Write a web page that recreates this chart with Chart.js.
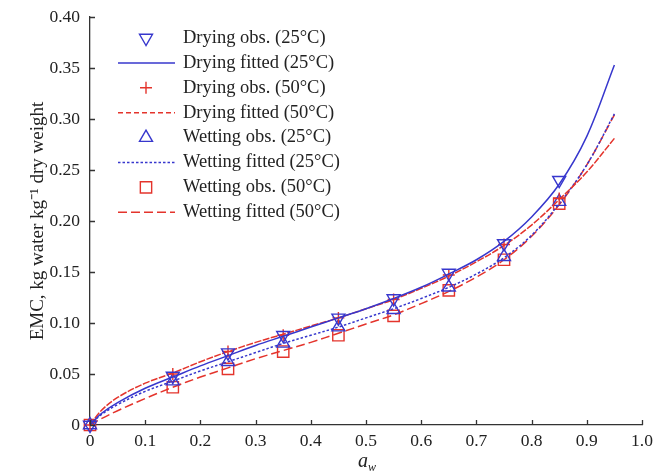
<!DOCTYPE html>
<html>
<head>
<meta charset="utf-8">
<script src="https://cdn.jsdelivr.net/npm/chart.js@4.4.1/dist/chart.umd.min.js"></script>
<style>
  html, body { margin: 0; padding: 0; background: #fff; }
  #wrap { width: 667px; height: 475px; }
</style>
</head>
<body>
<div id="wrap"><canvas id="emc"></canvas></div>
<script>
// observed points
const awObs = [0, 0.15, 0.25, 0.35, 0.45, 0.55, 0.65, 0.75, 0.85];
const dry25Obs = [0, 0.048, 0.071, 0.088, 0.105, 0.124, 0.149, 0.178, 0.240];
const dry50Obs = [0, 0.050, 0.072, 0.088, 0.105, 0.123, 0.147, 0.177, 0.222];
const wet25Obs = [0, 0.043, 0.062, 0.080, 0.096, 0.113, 0.135, 0.165, 0.219];
const wet50Obs = [0, 0.037, 0.055, 0.072, 0.088, 0.107, 0.132, 0.162, 0.217];

// fitted curves
const awFit = [0, 0.02, 0.05, 0.1, 0.15, 0.2, 0.25, 0.3, 0.35, 0.4, 0.45, 0.5, 0.55, 0.6, 0.65, 0.7, 0.75, 0.8, 0.85, 0.9, 0.95];
const dry25Fit = [0, 0.011, 0.022, 0.036, 0.047, 0.058, 0.068, 0.078, 0.087, 0.096, 0.105, 0.114, 0.124, 0.135, 0.148, 0.162, 0.180, 0.204, 0.236, 0.283, 0.353];
const dry50Fit = [0, 0.014, 0.027, 0.041, 0.051, 0.062, 0.072, 0.081, 0.089, 0.097, 0.105, 0.114, 0.123, 0.134, 0.146, 0.160, 0.176, 0.196, 0.221, 0.248, 0.281];
const wet25Fit = [0, 0.010, 0.020, 0.033, 0.043, 0.053, 0.062, 0.071, 0.080, 0.088, 0.096, 0.105, 0.114, 0.124, 0.135, 0.148, 0.164, 0.186, 0.217, 0.255, 0.305];
const wet50Fit = [0, 0.006, 0.014, 0.026, 0.037, 0.047, 0.056, 0.065, 0.073, 0.081, 0.090, 0.099, 0.108, 0.119, 0.131, 0.145, 0.162, 0.185, 0.216, 0.255, 0.304];

const xTicks = [0, 0.1, 0.2, 0.3, 0.4, 0.5, 0.6, 0.7, 0.8, 0.9, 1.0];
const yTicks = [0, 0.05, 0.10, 0.15, 0.20, 0.25, 0.30, 0.35, 0.40];

const labels = [
    'Drying obs. (25°C)', 'Drying fitted (25°C)',
    'Drying obs. (50°C)', 'Drying fitted (50°C)',
    'Wetting obs. (25°C)', 'Wetting fitted (25°C)',
    'Wetting obs. (50°C)', 'Wetting fitted (50°C)'
];

const BLUE = 'rgb(55,55,205)';
const RED = 'rgb(228,52,44)';
const SERIF = '"Liberation Serif", "Times New Roman", serif';
const AXIS = '#333';

function pts(xs, ys) {
    return xs.map((x, i) => ({ x: x, y: ys[i] }));
}

function obsSet(label, ys, color, style, rot, r) {
    return {
        label: label, data: pts(awObs, ys), showLine: false,
        borderColor: color, backgroundColor: 'rgba(0,0,0,0)',
        pointStyle: style, pointRotation: rot, pointRadius: r,
        pointBorderWidth: 1.4, clip: false
    };
}

function fitSet(label, ys, color, dash, legendDash) {
    return {
        label: label, data: pts(awFit, ys), showLine: true,
        borderColor: color, borderWidth: 1.5, borderDash: dash,
        legendDash: legendDash || dash,
        pointRadius: 0, pointStyle: 'line', tension: 0.35, clip: false
    };
}

const datasets = [
    obsSet(labels[0], dry25Obs, BLUE, 'triangle', 180, 7.5),
    fitSet(labels[1], dry25Fit, BLUE, []),
    obsSet(labels[2], dry50Obs, RED, 'cross', 0, 6),
    fitSet(labels[3], dry50Fit, RED, [7, 1.5], [5, 3]),
    obsSet(labels[4], wet25Obs, BLUE, 'triangle', 0, 7.5),
    fitSet(labels[5], wet25Fit, BLUE, [2.5, 2]),
    obsSet(labels[6], wet50Obs, RED, 'rect', 0, 8),
    fitSet(labels[7], wet50Fit, RED, [9, 4])
];

// legend drawn inside the plot area, top-left
const legendInside = {
    id: 'legendInside',
    afterDraw(chart) {
        const ctx = chart.ctx;
        const area = chart.chartArea;
        const symX = area.left + 56;
        const textX = area.left + 93;
        ctx.save();
        ctx.font = '18.5px ' + SERIF;
        ctx.textBaseline = 'middle';
        ctx.textAlign = 'left';
        chart.data.datasets.forEach((ds, i) => {
            const y = area.top + 21 + i * 24.9;
            ctx.strokeStyle = ds.borderColor;
            if (ds.showLine) {
                ctx.lineWidth = ds.borderWidth;
                ctx.setLineDash(ds.legendDash);
                ctx.beginPath();
                ctx.moveTo(symX - 28, y);
                ctx.lineTo(symX + 29, y);
                ctx.stroke();
                ctx.setLineDash([]);
            } else {
                ctx.lineWidth = ds.pointBorderWidth;
                ctx.fillStyle = 'rgba(0,0,0,0)';
                Chart.helpers.drawPoint(ctx, {
                    pointStyle: ds.pointStyle, rotation: ds.pointRotation,
                    radius: ds.pointRadius, borderWidth: ds.pointBorderWidth
                }, symX, y);
            }
            ctx.fillStyle = '#222';
            ctx.fillText(ds.label, textX, y);
        });
        ctx.restore();
    }
};

// inward tick marks and the a_w axis title
const axisExtras = {
    id: 'axisExtras',
    afterDraw(chart) {
        const ctx = chart.ctx;
        const xs = chart.scales.x;
        const ys = chart.scales.y;
        ctx.save();
        ctx.strokeStyle = AXIS;
        ctx.lineWidth = 1.3;
        ctx.beginPath();
        xs.ticks.forEach((t, i) => {
            const px = Math.round(xs.getPixelForTick(i)) + 0.5;
            ctx.moveTo(px, ys.bottom);
            ctx.lineTo(px, ys.bottom - 5);
        });
        ys.ticks.forEach((t, i) => {
            const py = Math.round(ys.getPixelForTick(i)) + 0.5;
            ctx.moveTo(xs.left, py);
            ctx.lineTo(xs.left + 5, py);
        });
        ctx.stroke();

        const cx = (xs.left + xs.right) / 2;
        ctx.fillStyle = '#222';
        ctx.textBaseline = 'alphabetic';
        ctx.font = 'italic 20px ' + SERIF;
        const aW = ctx.measureText('a').width;
        ctx.fillText('a', cx - 8, 467);
        ctx.font = 'italic 12px ' + SERIF;
        ctx.fillText('w', cx - 8 + aW, 471);
        ctx.restore();
    }
};

const ctx = document.getElementById('emc').getContext('2d');
const emcChart = new Chart(ctx, {
    type: 'scatter',
    data: { datasets: datasets },
    options: {
        responsive: true,
        maintainAspectRatio: false,
        animation: false,
        layout: { padding: { left: 27, right: 25, top: 17, bottom: 0 } },
        plugins: {
            legend: { display: false },
            tooltip: { enabled: false }
        },
        scales: {
            x: {
                type: 'linear', min: 0, max: 1,
                afterBuildTicks: s => { s.ticks = xTicks.map(v => ({ value: v })); },
                afterFit: s => { s.height = 50; },
                grid: { display: false },
                border: { display: true, color: AXIS, width: 1.3 },
                ticks: {
                    color: '#222', padding: -2,
                    font: { family: SERIF, size: 17.5 },
                    callback: v => v === 0 ? '0' : v.toFixed(1)
                }
            },
            y: {
                type: 'linear', min: 0, max: 0.4,
                afterBuildTicks: s => { s.ticks = yTicks.map(v => ({ value: v })); },
                afterFit: s => { s.width = 63; },
                grid: { display: false },
                border: { display: true, color: AXIS, width: 1.3 },
                title: {
                    display: true, text: 'EMC, kg water kg⁻¹ dry weight',
                    color: '#222', padding: { top: 0, bottom: 0 },
                    font: { family: SERIF, size: 19 }
                },
                ticks: {
                    color: '#222', padding: 2,
                    font: { family: SERIF, size: 17.5 },
                    callback: v => v === 0 ? '0' : v.toFixed(2)
                }
            }
        }
    },
    plugins: [legendInside, axisExtras]
});
</script>
</body>
</html>
